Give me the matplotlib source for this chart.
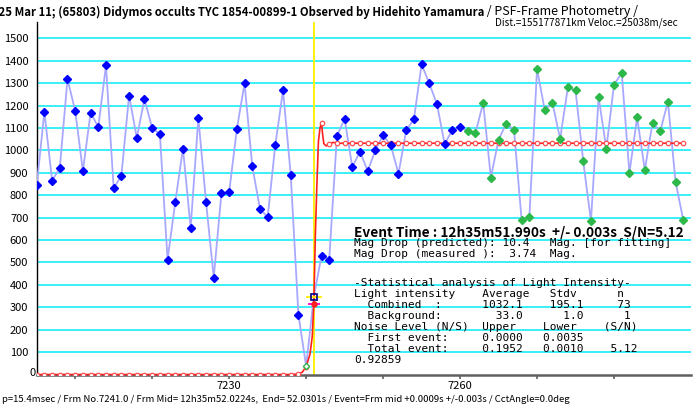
import matplotlib
matplotlib.use("Agg")
import matplotlib.pyplot as plt
import numpy as np

# ---------------- data ----------------
frame_start = 7205
values = [844, 1172, 865, 922, 1318, 1177, 908, 1168, 1104, 1379,
          831, 887, 1245, 1056, 1229, 1099, 1074, 512, 770, 1008,
          655, 1145, 770, 432, 810, 813, 1095, 1299, 931, 740,
          701, 1025, 1268, 892, 267, 38, 346, 531, 513, 1063,
          1141, 926, 995, 908, 1001, 1069, 1022, 896, 1090, 1138,
          1384, 1299, 1206, 1028, 1092, 1105, 1087, 1078, 1212, 879,
          1048, 1120, 1092, 688, 701, 1363, 1180, 1212, 1051, 1281,
          1268, 952, 685, 1237, 1008, 1294, 1345, 899, 1147, 913,
          1124, 1085, 1217, 858, 689]
frames = list(range(frame_start, frame_start + len(values)))

blue_idx = list(range(0, 35)) + list(range(37, 56))
green_idx = list(range(56, 85))
low_idx = [35]
event_idx = 36

fit_circle_y = [0, 0, 0, 0, 0, 0, 0, 0, 0, 0,
                0, 0, 0, 0, 0, 0, 0, 0, 0, 0,
                0, 0, 0, 0, 0, 0, 0, 0, 0, 0,
                0, 0, 0, 0, 2, 35, 315, 1122, 1028, 1032,
                1032, 1032, 1032, 1032, 1032, 1032, 1032, 1032, 1032, 1032,
                1032, 1032, 1032, 1032, 1032, 1032, 1032, 1032, 1032, 1032,
                1032, 1032, 1032, 1032, 1032, 1032, 1032, 1032, 1032, 1032,
                1032, 1032, 1032, 1032, 1032, 1032, 1032, 1032, 1032, 1032,
                1032, 1032, 1032, 1032, 1032]
fit_fine_x = [7205, 7238, 7239, 7239.5, 7240, 7240.5, 7240.8, 7241.0, 7241.2,
              7241.4, 7241.6, 7241.8, 7242.0, 7242.15, 7242.3, 7242.6, 7243.0,
              7243.5, 7244, 7289]
fit_fine_y = [0, 0, 2, 10, 35, 90, 170, 315, 620, 850, 1040, 1100, 1122,
              1070, 1030, 1020, 1028, 1036, 1032, 1032]

event_frame = 7241.06
event_level = 346
fit_event_level = 315

yticks = [100, 200, 300, 400, 500, 600, 700, 800, 900, 1000,
          1100, 1200, 1300, 1400, 1500]
xticks = [7210, 7220, 7230, 7240, 7250, 7260, 7270, 7280]
xlabels = ["", "", "7230", "", "", "7260", "", ""]

title_bold = "2025 Mar 11; (65803) Didymos occults TYC 1854-00899-1 Observed by Hidehito Yamamura"
title_norm = " / PSF-Frame Photometry /"
title_line2 = "Dist.=155177871km Veloc.=25038m/sec"
event_text = "Event Time : 12h35m51.990s  +/- 0.003s  S/N=5.12"
stats_lines = [
    "Mag Drop (predicted): 10.4   Mag. [for fitting]",
    "Mag Drop (measured ):  3.74  Mag.",
    "",
    "-Statistical analysis of Light Intensity-",
    "Light intensity    Average   Stdv      n",
    "  Combined  :      1032.1    195.1     73",
    "  Background:        33.0      1.0      1",
    "Noise Level (N/S)  Upper    Lower    (S/N)",
    "  First event:     0.0000   0.0035",
    "  Total event:     0.1952   0.0010    5.12",
    "0.92859",
]
bottom_text = ("p=15.4msec / Frm No.7241.0 / Frm Mid= 12h35m52.0224s,  End= 52.0301s"
               " / Event=Frm mid +0.0009s +/-0.003s / CctAngle=0.0deg")

# ---------------- figure ----------------
W, H = 697, 407
fig = plt.figure(figsize=(W / 100, H / 100), dpi=100)
jp = ["Noto Sans CJK JP", "DejaVu Sans"]

ax = fig.add_axes([36.7 / W, (H - 374.5) / H, (691 - 36.7) / W, (374.5 - 22) / H])
ax.set_xlim(7205, 7290)
ax.set_ylim(0, 1573)

for yv in yticks:
    ax.axhline(yv, color="#2BEEF8", lw=1.3, zorder=1)

ax.axvline(event_frame, color="#FFEE00", lw=1.3, zorder=2)

# light curve line
ax.plot(frames, values, color="#A8A8FF", lw=1.3, zorder=3)

# fit
ax.plot(fit_fine_x, fit_fine_y, color="#FF2020", lw=1.2, zorder=4)
ax.plot(frames, fit_circle_y, ls="none", marker="o", ms=3.2, mfc="white",
        mec="#FF5050", mew=0.9, zorder=5)

bx = [frames[i] for i in blue_idx]
by = [values[i] for i in blue_idx]
ax.plot(bx, by, ls="none", marker="D", ms=4.0, color="#0000FF", zorder=6)
gx = [frames[i] for i in green_idx]
gy = [values[i] for i in green_idx]
ax.plot(gx, gy, ls="none", marker="D", ms=4.0, color="#2DB84A", zorder=6)
lx = [frames[i] for i in low_idx]
ly = [values[i] for i in low_idx]
ax.plot(lx, ly, ls="none", marker="D", ms=3.2, mfc="white", mec="#2DB84A",
        mew=1.0, zorder=6)

# event marker
ax.plot([frames[event_idx]], [event_level], ls="none", marker="_", ms=12,
        mew=1.3, color="#FFEE00", zorder=7)
ax.plot([frames[event_idx]], [event_level], ls="none", marker="s", ms=4.5,
        mfc="none", mec="#000080", mew=1.2, zorder=8)
ax.plot([frames[event_idx]], [fit_event_level], ls="none", marker="_", ms=9,
        mew=1.3, color="#FF00CC", zorder=7)
ax.plot([frames[event_idx]], [fit_event_level], ls="none", marker="o", ms=3.5,
        color="#FF2020", zorder=8)

# axes styling
for s in ["top", "right"]:
    ax.spines[s].set_visible(False)
ax.spines["left"].set_color("black")
ax.spines["left"].set_linewidth(1.0)
ax.spines["bottom"].set_color("#606060")
ax.spines["bottom"].set_linewidth(1.8)

ax.set_yticks(yticks)
ax.set_yticklabels([str(v) for v in yticks], family=jp, fontsize=8)
ax.tick_params(axis="y", length=0, pad=6)
ax.annotate("0", xy=(0, 0), xycoords=("axes fraction", "data"),
            xytext=(-1, 1), textcoords="offset points", ha="right", va="center",
            family=jp, fontsize=8)

ax.set_xticks(xticks)
ax.set_xticklabels(xlabels, family=jp, fontsize=8)
ax.tick_params(axis="x", direction="out", length=3, width=1.2, color="#606060", pad=2)

# texts
t1 = fig.text(-15 / W, 1 - 12 / H, title_bold, family=jp, fontweight="bold",
              fontsize=8.2, va="center", ha="left")
fig.canvas.draw()
bb = t1.get_window_extent()
fig.text(bb.x1 / W, 1 - 12 / H, title_norm, family=jp, fontsize=9,
         va="center", ha="left")
fig.text(678 / W, 1 - 23 / H, title_line2, family=jp, fontsize=7.2,
         va="center", ha="right")

fig.text(354 / W, 1 - 232 / H, event_text, family=jp, fontweight="bold",
         fontsize=9.8, va="center", ha="left")
for k, line in enumerate(stats_lines):
    if not line:
        continue
    ypix = 243 + k * 11.0 + (7 if k >= 3 else 0)
    fig.text(354 / W, 1 - ypix / H, line, family="DejaVu Sans Mono",
             fontsize=8, va="center", ha="left")

fig.text(2 / W, 1 - 399 / H, bottom_text, family=jp, fontsize=6.9,
         va="center", ha="left")

fig.savefig("out.png", dpi=100)
